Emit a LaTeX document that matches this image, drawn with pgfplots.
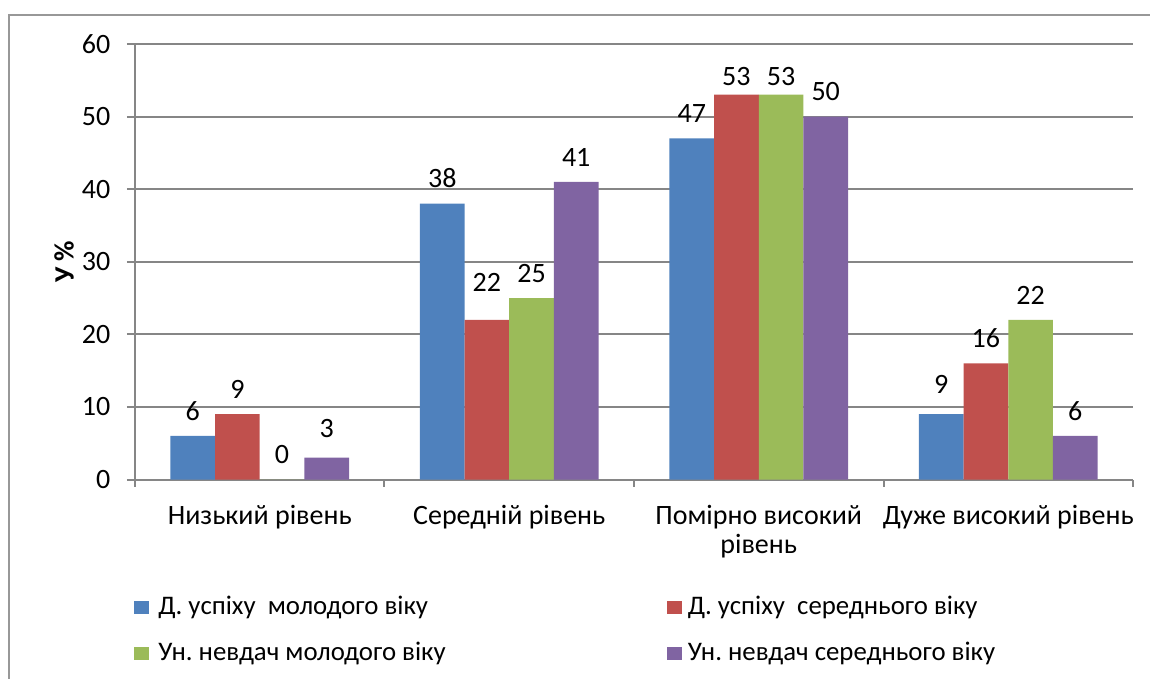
\documentclass[border=0pt]{standalone}
\usepackage{pgfplots}
\usepackage{pgfplotstable}
\pgfplotsset{compat=1.18}
\usepackage{fontspec}
\setmainfont{Carlito}
\definecolor{c1}{HTML}{4F81BD}
\definecolor{c2}{HTML}{C0504D}
\definecolor{c3}{HTML}{9BBB59}
\definecolor{c4}{HTML}{8064A2}
\definecolor{gridc}{HTML}{868686}
\pgfplotsset{/pgf/number format/assume math mode=true}
% x  y  label offset (bp)
\pgfplotstableread{
x y dy
0 6 0
1 38 0
2 47 0
3 9 2.5
}\tA
\pgfplotstableread{
x y dy
0 9 0
1 22 6.5
2 53 -3.5
3 16 0
}\tB
\pgfplotstableread{
x y dy
0 0 0
1 25 0
2 53 -3.5
3 22 0
}\tC
\pgfplotstableread{
x y dy
0 3 2
1 41 0
2 50 0
3 6 0
}\tD
\begin{document}
\frenchspacing
\fontsize{14bp}{17bp}\selectfont
\begin{tikzpicture}
\useasboundingbox (-67.5bp,-99.75bp) rectangle (507.5bp,239.75bp);
\draw[gridc!85, line width=1bp] (-63bp,-110bp) -- (-63bp,232.4bp) -- (520bp,232.4bp);
\begin{axis}[
  at={(0,0)}, anchor=south west,
  width=499bp, height=217.8bp, scale only axis,
  ybar, bar width=0.179,
  xmin=-0.5, xmax=3.5, ymin=0, ymax=60,
  ytick={0,10,...,60},
  xtick={0,1,2,3},
  xticklabels={Низький рівень, Середній рівень, {Помірно високий\\рівень}, Дуже високий рівень},
  xticklabel style={align=center, font=\fontsize{14bp}{14.5bp}\selectfont, yshift=-4bp},
  yticklabel style={font=\fontsize{14bp}{16bp}\selectfont, xshift=-3.5bp},
  minor xtick={-0.5,0.5,1.5,2.5,3.5},
  major x tick style={draw=none},
  axis x line*=bottom, axis y line*=left,
  axis line style={gridc, line width=1bp},
  tick style={gridc, line width=1bp},
  tick align=outside,
  major tick length=4bp, minor tick length=3.5bp,
  ymajorgrids, grid style={gridc, line width=1bp},
  ylabel={\textbf{У \%}},
  ylabel style={font=\fontsize{14bp}{16bp}\selectfont, yshift=-5.5bp},
  visualization depends on={\thisrow{dy} \as \dy},
  nodes near coords,
  nodes near coords style={font=\fontsize{14bp}{16bp}\selectfont, yshift=3bp+\dy bp},
  legend columns=2,
  legend cell align=left,
  legend style={draw=none, fill=none, at={(0,0)}, anchor=north west, xshift=-3.5bp, yshift=-54.5bp,
    row sep=9bp, column sep=0bp,
    nodes={inner sep=1.5bp},
    /tikz/column 1/.style={column sep=3bp},
    /tikz/column 2/.style={column sep=109bp},
    /tikz/column 3/.style={column sep=1.5bp},
    font=\fontsize{13.4bp}{16bp}\selectfont},
]
\addplot[fill=c1, draw=none, bar shift=-0.2685, legend image code/.code={\fill[c1] (0bp,-3.25bp) rectangle (7.5bp,3.25bp);}] table[x=x,y=y] {\tA};
\addplot[fill=c2, draw=none, bar shift=-0.0895, legend image code/.code={\fill[c2] (0bp,-3.25bp) rectangle (7.5bp,3.25bp);}] table[x=x,y=y] {\tB};
\addplot[fill=c3, draw=none, bar shift=0.0895, legend image code/.code={\fill[c3] (0bp,-3.25bp) rectangle (7.5bp,3.25bp);}] table[x=x,y=y] {\tC};
\addplot[fill=c4, draw=none, bar shift=0.2685, legend image code/.code={\fill[c4] (0bp,-3.25bp) rectangle (7.5bp,3.25bp);}] table[x=x,y=y] {\tD};
\legend{Д. успіху\ \ молодого віку, Д. успіху\ \ середнього віку, Ун. невдач молодого віку, Ун. невдач середнього віку}
\end{axis}
\end{tikzpicture}
\end{document}
